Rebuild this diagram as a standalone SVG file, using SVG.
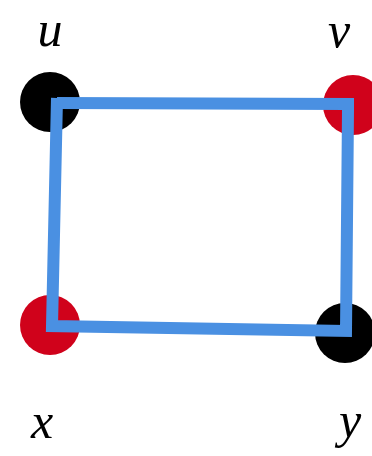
<svg xmlns="http://www.w3.org/2000/svg" width="372" height="456" viewBox="0 0 372 456">
<style>
.lbl{font-family:"Liberation Serif","DejaVu Serif",serif;font-style:italic;font-size:50px;fill:#000;text-anchor:middle}
.blk{fill:#000}
.red{fill:#d0021b}
.edge{fill:none;stroke:#4a90e2;stroke-width:12;stroke-linejoin:miter}
</style>
<rect width="372" height="456" fill="#fff"/>
<g id="node-u"><circle class="blk" cx="50" cy="102" r="30"/><text class="lbl" x="50" y="46">u</text></g>
<g id="node-v"><circle class="red" cx="353" cy="105" r="30"/><text class="lbl" x="339" y="47">v</text></g>
<g id="node-x"><circle class="red" cx="50" cy="325" r="30"/><text class="lbl" x="42" y="438">x</text></g>
<g id="node-y"><circle class="blk" cx="345" cy="333" r="30"/><text class="lbl" x="350" y="437">y</text></g>
<g id="connectors">
<path class="edge" d="M57,98 L52,326 L346,331 L348,110"/>
<path class="edge" d="M57,103 L348,104 L348,110"/>
</g>
</svg>
